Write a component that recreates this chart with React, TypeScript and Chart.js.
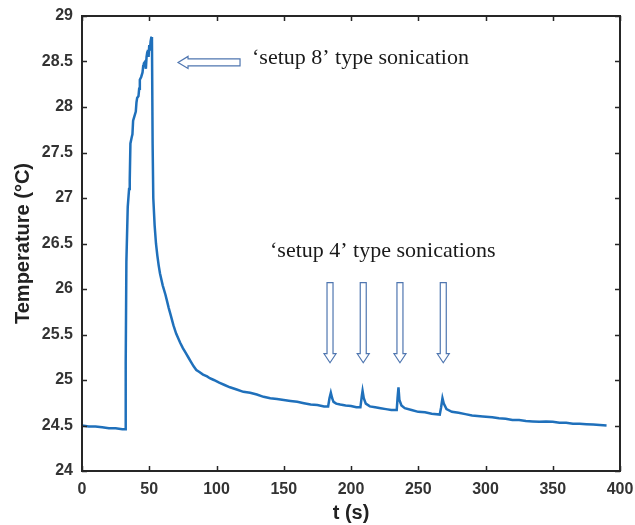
import React, { useEffect, useRef } from "react";
import { Chart, registerables } from "chart.js";

Chart.register(...registerables);

// time (s)
const times: number[] = [
  0, 5, 10, 15, 20, 25, 30, 32,
  32.5, 33, 34, 35, 35.5, 36, 37, 37.5, 38, 39, 40, 40.5, 41, 42, 42.5, 43, 44, 45, 45.5, 46, 47, 47.5, 48, 48.5, 49, 49.5, 50, 50.5, 51, 51.5, 52,
  52.5, 53, 54, 55, 56, 57, 58, 60, 62, 63, 64.5, 66, 68, 70, 73, 75, 77, 79, 81, 83, 85, 87, 90, 93, 95, 98, 102, 106, 110, 115, 120, 125, 130, 135, 140, 145, 150, 155, 160, 165, 170, 175, 180, 183,
  184, 185, 186, 187, 189, 192, 196, 200, 204, 207,
  208, 208.6, 209.5, 211, 214, 218, 222, 226, 230, 234,
  234.6, 235.3, 236, 237.5, 240, 245, 250, 255, 260, 266,
  267, 268, 269, 271, 275, 280, 285, 290, 298, 305, 310, 315, 320, 325, 330, 335, 340, 345, 350, 355, 360, 365, 370, 375, 380, 385, 390
];

// temperature (°C)
const temps: number[] = [
  24.5, 24.49, 24.49, 24.48, 24.47, 24.47, 24.46, 24.46,
  25.2, 26.3, 26.9, 27.1, 27.2, 27.6, 27.67, 27.7, 27.85, 27.9, 27.95, 28.05, 28.1, 28.12, 28.2, 28.3, 28.33, 28.38, 28.45, 28.48, 28.5, 28.42, 28.55, 28.6, 28.63, 28.55, 28.68, 28.62, 28.72, 28.76, 28.77,
  27.6, 27.0, 26.7, 26.5, 26.37, 26.26, 26.17, 26.04, 25.94, 25.88, 25.79, 25.71, 25.6, 25.51, 25.41, 25.35, 25.3, 25.25, 25.2, 25.15, 25.11, 25.09, 25.06, 25.04, 25.02, 25.0, 24.97, 24.945, 24.92, 24.895, 24.87, 24.86, 24.84, 24.815, 24.8, 24.79, 24.78, 24.77, 24.76, 24.745, 24.73, 24.725, 24.71, 24.71,
  24.8, 24.86, 24.8, 24.76, 24.74, 24.73, 24.72, 24.715, 24.7, 24.7,
  24.82, 24.88, 24.8, 24.74, 24.71, 24.7, 24.69, 24.68, 24.67, 24.67,
  24.8, 24.92, 24.78, 24.72, 24.69, 24.67, 24.65, 24.645, 24.63, 24.62,
  24.7, 24.8, 24.74, 24.68, 24.65, 24.64, 24.625, 24.61, 24.6, 24.59, 24.58, 24.575, 24.56, 24.56, 24.55, 24.545, 24.54, 24.545, 24.54, 24.53, 24.53, 24.52, 24.52, 24.515, 24.51, 24.505, 24.5
];

const xTicks: number[] = [0, 50, 100, 150, 200, 250, 300, 350, 400];
const yTicks: number[] = [24, 24.5, 25, 25.5, 26, 26.5, 27, 27.5, 28, 28.5, 29];

const topLabel = "\u2018setup 8\u2019 type sonication";
const bottomLabel = "\u2018setup 4\u2019 type sonications";
const smallPeakTimes: number[] = [184.4, 209.1, 236.4, 268.6];

export default function App() {
  const ref = useRef<HTMLCanvasElement>(null);

  useEffect(() => {
    if (!ref.current) return;
    const data = times.map((t, i) => ({ x: t, y: temps[i] }));

    const framePlugin = {
      id: "frame",
      afterDraw(chart: any) {
        const { ctx, chartArea: a, scales } = chart;
        const xs = scales.x;
        const ys = scales.y;
        ctx.save();
        ctx.strokeStyle = "#262626";
        ctx.lineWidth = 2;
        ctx.strokeRect(a.left, a.top, a.right - a.left, a.bottom - a.top);
        const tl = 5;
        ctx.beginPath();
        xTicks.forEach((v) => {
          const px = Math.round(xs.getPixelForValue(v)) + 0.5;
          ctx.moveTo(px, a.bottom);
          ctx.lineTo(px, a.bottom - tl);
          ctx.moveTo(px, a.top);
          ctx.lineTo(px, a.top + tl);
        });
        yTicks.forEach((v) => {
          const py = Math.round(ys.getPixelForValue(v)) + 0.5;
          ctx.moveTo(a.left, py);
          ctx.lineTo(a.left + tl, py);
          ctx.moveTo(a.right, py);
          ctx.lineTo(a.right - tl, py);
        });
        ctx.lineWidth = 1.5;
        ctx.stroke();

        ctx.strokeStyle = "#4f76b0";
        ctx.fillStyle = "#ffffff";
        ctx.lineWidth = 1.2;

        const x0 = xs.getPixelForValue(71.4);
        const x1 = xs.getPixelForValue(117.5);
        const ay = ys.getPixelForValue(28.49);
        const hl = 10, hh = 6, sh = 3.5;
        ctx.beginPath();
        ctx.moveTo(x0, ay);
        ctx.lineTo(x0 + hl, ay - hh);
        ctx.lineTo(x0 + hl, ay - sh);
        ctx.lineTo(x1, ay - sh);
        ctx.lineTo(x1, ay + sh);
        ctx.lineTo(x0 + hl, ay + sh);
        ctx.lineTo(x0 + hl, ay + hh);
        ctx.closePath();
        ctx.fill();
        ctx.stroke();

        const y0 = ys.getPixelForValue(26.07);
        const y1 = ys.getPixelForValue(25.19);
        smallPeakTimes.forEach((t) => {
          const x = xs.getPixelForValue(t);
          ctx.beginPath();
          ctx.moveTo(x, y1);
          ctx.lineTo(x - hh, y1 - 9);
          ctx.lineTo(x - 3, y1 - 9);
          ctx.lineTo(x - 3, y0);
          ctx.lineTo(x + 3, y0);
          ctx.lineTo(x + 3, y1 - 9);
          ctx.lineTo(x + hh, y1 - 9);
          ctx.closePath();
          ctx.fill();
          ctx.stroke();
        });

        ctx.fillStyle = "#1a1a1a";
        ctx.font = '22px "Liberation Serif", "Times New Roman", serif';
        ctx.textAlign = "left";
        ctx.textBaseline = "alphabetic";
        ctx.fillText(topLabel, xs.getPixelForValue(126.4), ys.getPixelForValue(28.47));
        ctx.fillText(bottomLabel, xs.getPixelForValue(139.8), ys.getPixelForValue(26.35));
        ctx.restore();
      },
    };

    const tickFont = { family: '"Liberation Sans", Arial, sans-serif', size: 16, weight: "bold" as const };
    const titleFont = { family: '"Liberation Sans", Arial, sans-serif', size: 20, weight: "bold" as const };

    const chart = new Chart(ref.current, {
      type: "scatter",
      data: {
        datasets: [
          {
            data,
            showLine: true,
            borderColor: "#1f70bb",
            borderWidth: 2.5,
            pointRadius: 0,
            tension: 0,
            fill: false,
          },
        ],
      },
      options: {
        animation: false,
        responsive: false,
        devicePixelRatio: 1,
        layout: { padding: { left: 0, right: 15, top: 16, bottom: 0 } },
        plugins: { legend: { display: false }, tooltip: { enabled: false } },
        scales: {
          x: {
            type: "linear",
            min: 0,
            max: 400,
            afterFit: (s: any) => { s.height = 54; s.paddingLeft = 0; s.paddingRight = 0; },
            afterBuildTicks: (s: any) => { s.ticks = xTicks.map((v) => ({ value: v })); },
            grid: { display: false, drawTicks: false },
            border: { display: false },
            ticks: { color: "#333333", font: tickFont, padding: 9, maxRotation: 0, callback: (v: any) => String(v) },
            title: { display: true, text: "t (s)", color: "#222222", font: titleFont, padding: { top: 0, bottom: 0 } },
          },
          y: {
            type: "linear",
            min: 24,
            max: 29,
            afterFit: (s: any) => { s.width = 82; s.paddingTop = 0; s.paddingBottom = 0; },
            afterBuildTicks: (s: any) => { s.ticks = yTicks.map((v) => ({ value: v })); },
            grid: { display: false, drawTicks: false },
            border: { display: false },
            ticks: { color: "#333333", font: tickFont, padding: 9, callback: (v: any) => String(v) },
            title: { display: true, text: "Temperature (\u00B0C)", color: "#222222", font: titleFont, padding: { top: 11, bottom: 0 } },
          },
        },
      },
      plugins: [framePlugin],
    });
    return () => chart.destroy();
  }, []);

  return (
    <div style={{ position: "absolute", left: 0, top: 0, width: 635, height: 525, background: "#fff" }}>
      <canvas ref={ref} width={635} height={525} style={{ width: 635, height: 525, display: "block" }} />
    </div>
  );
}
